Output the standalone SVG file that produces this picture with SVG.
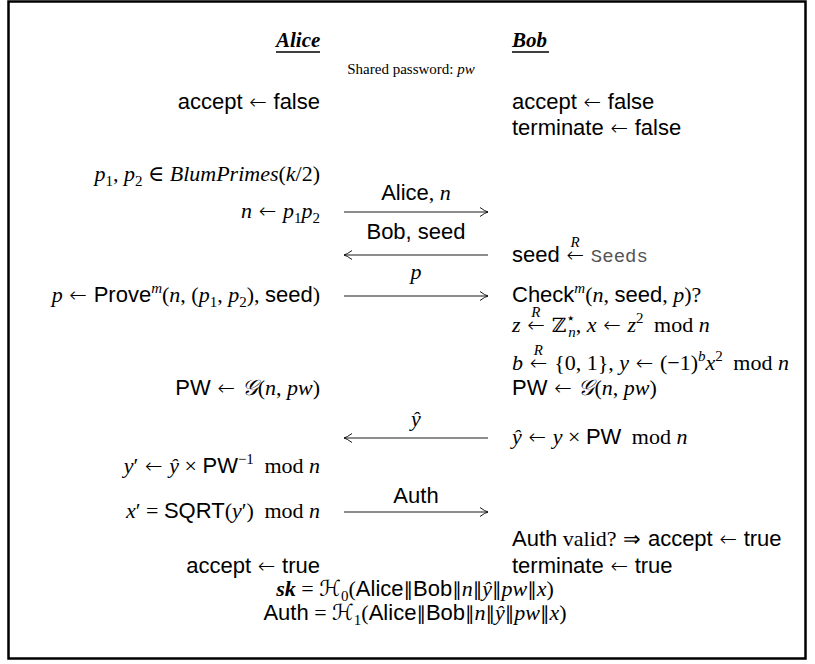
<svg xmlns="http://www.w3.org/2000/svg" width="815" height="664" viewBox="0 0 815 664">
<style>
text { font-family: "Liberation Serif", "DejaVu Serif", serif; font-size: 22px; fill: #000; }
.sf { font-family: "Liberation Sans", Arial, sans-serif; }
.it { font-style: italic; }
.bi { font-style: italic; font-weight: bold; }
.hd { font-style: italic; font-weight: bold; font-size: 21px; }
.sm { font-size: 15px; }
.ar { font-family: "DejaVu Sans", sans-serif; font-weight: 200; font-size: 21px; }
.pp { font-family: "DejaVu Sans", sans-serif; font-size: 19px; }
.tt { font-family: "Liberation Mono", monospace; font-size: 19px; fill: #555; }
.ds { font-family: "DejaVu Serif", serif; font-size: 20px; }
.cal { font-family: "DejaVu Sans", "DejaVu Serif", serif; font-style: italic; }
.mid { text-anchor: middle; }
.L { text-anchor: end; }
.hdr { font-size: 15px; }
.conn line { stroke: #000; stroke-width: 0.9; fill: none; }
.ul { stroke: #000; stroke-width: 1.6; }
</style>
<defs>
<marker id="ah" markerUnits="userSpaceOnUse" markerWidth="12" markerHeight="12" refX="0" refY="0" viewBox="-10 -6 12 12" orient="auto">
<path d="M -8 -4.5 Q -3 -0.8 0 0 Q -3 0.8 -8 4.5" fill="none" stroke="#000" stroke-width="0.9"/>
</marker>
</defs>
<rect x="8.5" y="1.5" width="797" height="657" fill="#fff" stroke="#000" stroke-width="2.5"/>

<g id="header">
<text class="hd" x="276" y="47">Alice</text>
<line class="ul" x1="276" y1="52" x2="320" y2="52"/>
<text class="hd" x="512" y="47">Bob</text>
<line class="ul" x1="512" y1="52" x2="549" y2="52"/>
<text class="mid hdr" x="411" y="74">Shared password: <tspan class="it">pw</tspan></text>
</g>

<g id="alice">
<text class="L" x="320" y="109"><tspan class="sf">accept</tspan><tspan class="ar"> ← </tspan><tspan class="sf">false</tspan></text>
<text class="L" x="320" y="181"><tspan class="it">p</tspan><tspan class="sm" dy="5">1</tspan><tspan dy="-5">, </tspan><tspan class="it">p</tspan><tspan class="sm" dy="5">2</tspan><tspan dy="-5"> ∈ </tspan><tspan class="it">BlumPrimes</tspan>(<tspan class="it">k</tspan>/2)</text>
<text class="L" x="320" y="218"><tspan class="it">n</tspan><tspan class="ar"> ← </tspan><tspan class="it">p</tspan><tspan class="sm" dy="5">1</tspan><tspan class="it" dy="-5">p</tspan><tspan class="sm" dy="5">2</tspan></text>
<text class="L" x="320" y="302"><tspan class="it">p</tspan><tspan class="ar"> ← </tspan><tspan class="sf">Prove</tspan><tspan class="sm it" dy="-9">m</tspan><tspan dy="9">(</tspan><tspan class="it">n</tspan>, (<tspan class="it">p</tspan><tspan class="sm" dy="5">1</tspan><tspan dy="-5">, </tspan><tspan class="it">p</tspan><tspan class="sm" dy="5">2</tspan><tspan dy="-5">), </tspan><tspan class="sf">seed</tspan>)</text>
<text class="L" x="320" y="395"><tspan class="sf">PW</tspan><tspan class="ar"> ← </tspan><tspan class="cal">𝒢</tspan>(<tspan class="it">n</tspan>, <tspan class="it">pw</tspan>)</text>
<text class="L" x="320" y="473"><tspan class="it">y</tspan>′<tspan class="ar"> ← </tspan><tspan class="it">ŷ</tspan> × <tspan class="sf">PW</tspan><tspan class="sm" dy="-9">−1</tspan><tspan dy="9" dx="5"> mod </tspan><tspan class="it">n</tspan></text>
<text class="L" x="320" y="518"><tspan class="it">x</tspan>′ = <tspan class="sf">SQRT</tspan>(<tspan class="it">y</tspan>′)<tspan dx="5"> mod </tspan><tspan class="it">n</tspan></text>
<text class="L" x="320" y="573"><tspan class="sf">accept</tspan><tspan class="ar"> ← </tspan><tspan class="sf">true</tspan></text>
</g>

<g id="bob">
<text x="512" y="109"><tspan class="sf">accept</tspan><tspan class="ar"> ← </tspan><tspan class="sf">false</tspan></text>
<text x="512" y="135"><tspan class="sf">terminate</tspan><tspan class="ar"> ← </tspan><tspan class="sf">false</tspan></text>
<text x="512" y="262"><tspan class="sf">seed</tspan><tspan class="ar"> ←</tspan><tspan class="it sm" dx="-13.5" dy="-15">R</tspan><tspan class="ar" dx="4.5" dy="15"> </tspan><tspan class="tt">Seeds</tspan></text>
<text x="512" y="302"><tspan class="sf">Check</tspan><tspan class="sm it" dy="-9">m</tspan><tspan dy="9">(</tspan><tspan class="it">n</tspan>, <tspan class="sf">seed</tspan>, <tspan class="it">p</tspan>)?</text>
<text x="512" y="332"><tspan class="it">z</tspan><tspan class="ar"> ←</tspan><tspan class="it sm" dx="-13.5" dy="-15">R</tspan><tspan class="ar" dx="4.5" dy="15"> </tspan><tspan class="ds">ℤ</tspan><tspan class="sm" dy="-9">⋆</tspan><tspan class="sm it" dx="-7" dy="14">n</tspan><tspan dy="-5">, </tspan><tspan class="it">x</tspan><tspan class="ar"> ← </tspan><tspan class="it">z</tspan><tspan class="sm" dy="-9">2</tspan><tspan dy="9" dx="5"> mod </tspan><tspan class="it">n</tspan></text>
<text x="512" y="370"><tspan class="it">b</tspan><tspan class="ar"> ←</tspan><tspan class="it sm" dx="-13.5" dy="-15">R</tspan><tspan class="ar" dx="4.5" dy="15"> </tspan>{0, 1}, <tspan class="it">y</tspan><tspan class="ar"> ← </tspan>(−1)<tspan class="sm it" dy="-9">b</tspan><tspan class="it" dy="9">x</tspan><tspan class="sm" dy="-9">2</tspan><tspan dy="9" dx="5"> mod </tspan><tspan class="it">n</tspan></text>
<text x="512" y="395"><tspan class="sf">PW</tspan><tspan class="ar"> ← </tspan><tspan class="cal">𝒢</tspan>(<tspan class="it">n</tspan>, <tspan class="it">pw</tspan>)</text>
<text x="512" y="444"><tspan class="it">ŷ</tspan><tspan class="ar"> ← </tspan><tspan class="it">y</tspan> × <tspan class="sf">PW</tspan><tspan dx="5"> mod </tspan><tspan class="it">n</tspan></text>
<text x="512" y="546"><tspan class="sf">Auth</tspan> valid?<tspan class="ar"> ⇒ </tspan><tspan class="sf">accept</tspan><tspan class="ar"> ← </tspan><tspan class="sf">true</tspan></text>
<text x="512" y="573"><tspan class="sf">terminate</tspan><tspan class="ar"> ← </tspan><tspan class="sf">true</tspan></text>
</g>

<g id="keys">
<text class="mid" x="415" y="596"><tspan class="bi">sk</tspan> = <tspan class="cal">ℋ</tspan><tspan class="sm" dy="5">0</tspan><tspan dy="-5">(</tspan><tspan class="sf">Alice</tspan><tspan class="pp">∥</tspan><tspan class="sf">Bob</tspan><tspan class="pp">∥</tspan><tspan class="it">n</tspan><tspan class="pp">∥</tspan><tspan class="it">ŷ</tspan><tspan class="pp">∥</tspan><tspan class="it">pw</tspan><tspan class="pp">∥</tspan><tspan class="it">x</tspan>)</text>
<text class="mid" x="415" y="620"><tspan class="sf">Auth</tspan> = <tspan class="cal">ℋ</tspan><tspan class="sm" dy="5">1</tspan><tspan dy="-5">(</tspan><tspan class="sf">Alice</tspan><tspan class="pp">∥</tspan><tspan class="sf">Bob</tspan><tspan class="pp">∥</tspan><tspan class="it">n</tspan><tspan class="pp">∥</tspan><tspan class="it">ŷ</tspan><tspan class="pp">∥</tspan><tspan class="it">pw</tspan><tspan class="pp">∥</tspan><tspan class="it">x</tspan>)</text>
</g>

<g id="connectors" class="conn">
<text class="mid" x="416" y="200"><tspan class="sf">Alice</tspan>, <tspan class="it">n</tspan></text>
<line x1="344" y1="212" x2="488" y2="212" marker-end="url(#ah)"/>
<text class="mid sf" x="416" y="239">Bob, seed</text>
<line x1="488" y1="255" x2="344" y2="255" marker-end="url(#ah)"/>
<text class="mid it" x="416" y="279">p</text>
<line x1="344" y1="296" x2="488" y2="296" marker-end="url(#ah)"/>
<text class="mid it" x="416" y="426">ŷ</text>
<line x1="488" y1="438" x2="344" y2="438" marker-end="url(#ah)"/>
<text class="mid sf" x="416" y="503">Auth</text>
<line x1="344" y1="512" x2="488" y2="512" marker-end="url(#ah)"/>
</g>
</svg>
